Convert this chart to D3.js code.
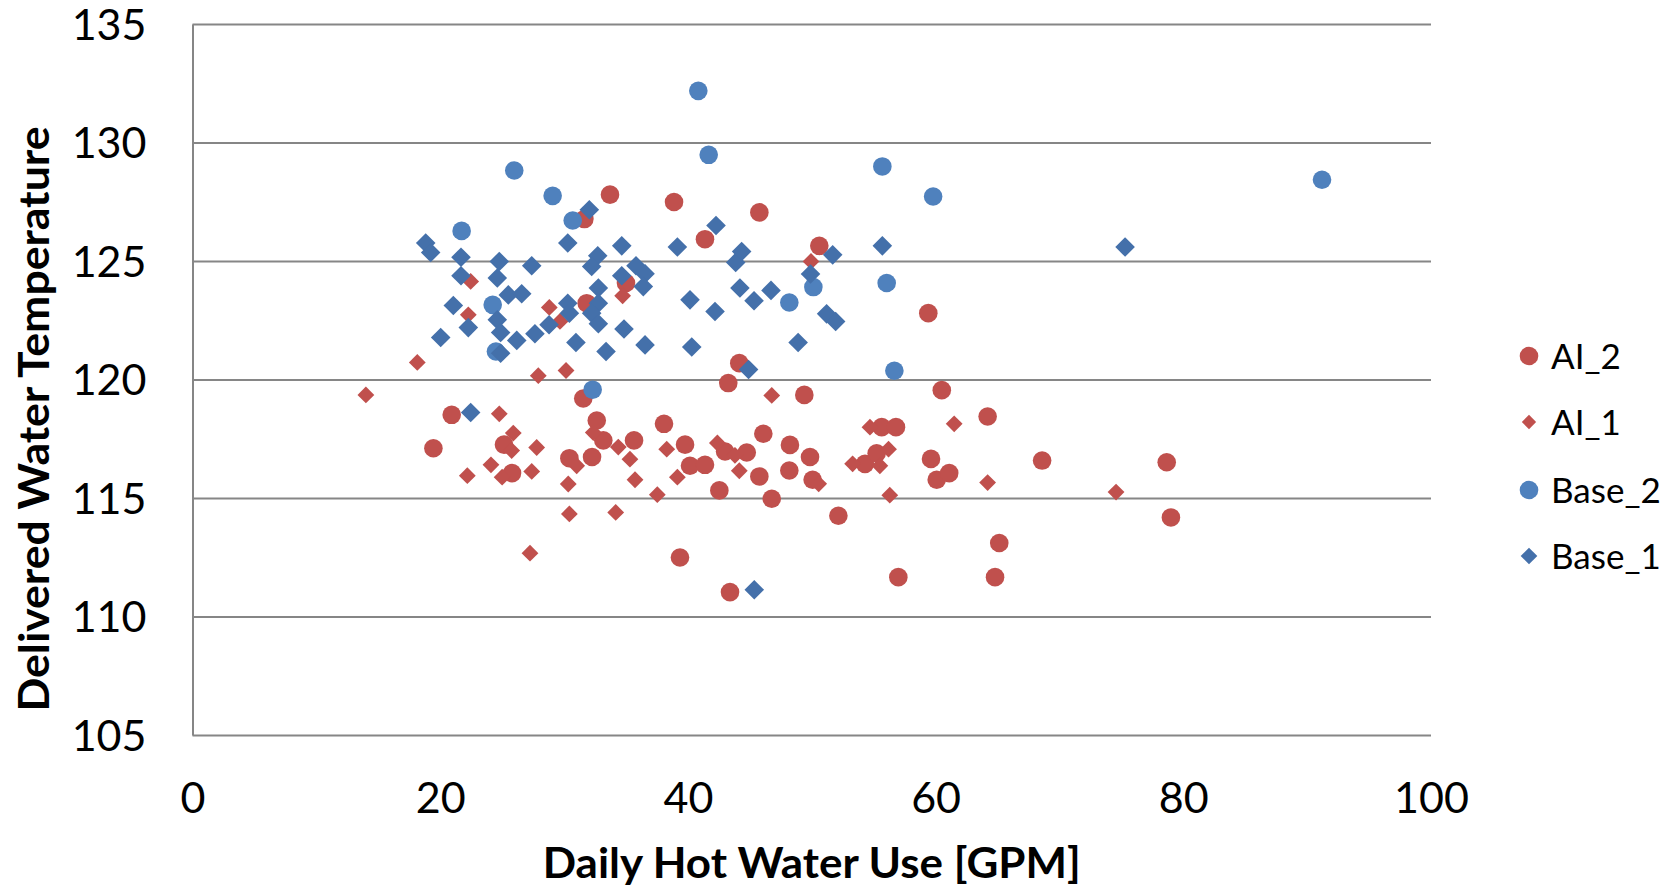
<!DOCTYPE html>
<html>
<head>
<meta charset="utf-8">
<script src="https://cdn.jsdelivr.net/npm/d3@7"></script>
<style>
  body { margin: 0; background: #fff; }
  text { font-family: Lato, "Open Sans", sans-serif; fill: #000; }
</style>
</head>
<body>
<svg id="chart" width="1677" height="888"></svg>
<script>
// Series, listed bottom-to-top in draw order: [daily use GPM, delivered temp]
const seriesNames = ["AI_2", "AI_1", "Base_2", "Base_1"];

const ai2 = [
  [19.45,117.1],[20.93,118.51],[25.15,117.25],[25.8,116.05],[30.43,116.68],[31.64,126.77],
  [31.55,119.2],[31.83,123.22],[32.26,116.73],[32.64,118.27],[33.17,117.43],[33.71,127.8],
  [35.0,124.07],[35.65,117.43],[38.07,118.13],[38.88,127.49],[39.36,112.49],[39.77,117.25],
  [40.17,116.36],[41.38,125.92],[41.38,116.4],[42.54,115.32],[43.0,116.96],[43.26,119.85],
  [43.4,111.03],[44.15,120.69],[44.75,116.92],[45.77,127.05],[45.77,115.91],[46.09,117.71],
  [46.77,114.97],[48.19,116.16],[48.24,117.24],[49.4,119.35],[49.86,116.73],[50.07,115.77],
  [50.61,125.64],[52.15,114.25],[54.3,116.44],[55.24,116.89],[55.65,117.99],[56.8,117.99],
  [56.99,111.66],[59.41,122.8],[59.63,116.65],[60.09,115.77],[60.5,119.55],[61.1,116.05],
  [64.2,118.44],[64.8,111.66],[65.14,113.1],[68.6,116.58],[78.66,116.51],[79.0,114.18]
];

const ai1 = [
  [14.0,119.35],[18.15,120.72],[22.46,124.14],[22.27,122.73],[22.19,115.94],[24.1,116.4],
  [24.77,118.55],[25.0,115.88],[25.9,117.74],[25.77,117.0],[27.39,116.12],[27.25,112.67],
  [27.79,117.13],[27.92,120.16],[28.81,123.04],[29.67,122.45],[30.16,120.38],[30.34,115.59],
  [30.43,114.33],[31.02,116.36],[32.36,117.76],[34.38,117.15],[34.17,114.39],[34.73,123.53],
  [35.32,116.64],[35.73,115.77],[37.53,115.14],[38.29,117.06],[39.15,115.88],[42.38,117.32],
  [43.8,116.8],[44.15,116.15],[46.77,119.33],[49.94,124.98],[50.56,115.6],[53.3,116.44],
  [54.7,117.99],[55.5,116.36],[56.2,117.06],[56.3,115.12],[61.5,118.13],[64.2,115.65],
  [74.57,115.25]
];

const base2 = [
  [21.73,126.27],[24.24,123.15],[24.5,121.18],[25.98,128.82],[29.08,127.75],[30.7,126.71],
  [32.31,119.57],[40.84,132.18],[41.68,129.48],[48.19,123.25],[50.13,123.9],[55.7,128.99],
  [56.05,124.07],[56.67,120.37],[59.8,127.72],[91.2,128.43]
];

const base1 = [
  [18.83,125.76],[19.23,125.36],[21.68,125.16],[21.68,124.38],[21.06,123.12],[22.27,122.19],
  [20.04,121.77],[22.46,118.61],[24.77,124.98],[24.61,124.28],[25.5,123.57],[26.58,123.62],
  [24.61,122.52],[24.88,121.98],[24.88,121.11],[26.18,121.65],[27.39,124.8],[27.65,121.93],
  [28.79,122.31],[30.3,125.76],[30.3,123.22],[30.43,122.8],[30.96,121.56],[32.04,127.16],
  [32.72,125.22],[32.23,124.77],[32.77,123.86],[32.77,123.22],[32.23,122.8],[32.77,122.35],
  [33.39,121.18],[34.66,125.64],[34.66,124.38],[35.81,124.8],[36.54,124.46],[36.4,123.92],
  [34.84,122.13],[36.54,121.46],[39.15,125.59],[40.17,123.36],[40.31,121.37],[42.27,126.5],
  [42.19,122.87],[43.86,124.94],[44.34,125.4],[44.2,123.86],[44.9,120.42],[45.34,123.32],
  [46.71,123.76],[45.36,111.13],[48.9,121.56],[49.9,124.45],[51.2,122.77],[51.93,122.45],
  [51.69,125.26],[55.7,125.64],[75.3,125.59]
];

const xTicks = [0, 20, 40, 60, 80, 100];
const yTicks = [105, 110, 115, 120, 125, 130, 135];
const xTitle = "Daily Hot Water Use [GPM]";
const yTitle = "Delivered Water Temperature";

// Marker style per series
const seriesData = [ai2, ai1, base2, base1];
const styles = [
  { shape: "circle",  r: 9.3, color: "#C0504D" },
  { shape: "diamond", r: 8.4, color: "#C0504D" },
  { shape: "circle",  r: 9.3, color: "#4F81BD" },
  { shape: "diamond", r: 9.8, color: "#4470AA" }
];

const svg = d3.select("#chart");
const x = d3.scaleLinear().domain([0, 100]).range([192.5, 1431]);
const y = d3.scaleLinear().domain([105, 135]).range([735, 24]);

// Horizontal gridlines + left axis line
const yAxis = svg.append("g")
  .attr("transform", `translate(${x(0)},0)`)
  .call(d3.axisLeft(y).tickValues(yTicks).tickFormat(d3.format("d"))
    .tickSize(-(x(100) - x(0))).tickSizeOuter(0).tickPadding(46));
yAxis.select(".domain").attr("stroke", "#868686").attr("stroke-width", 2);
yAxis.selectAll(".tick line").attr("stroke", "#868686").attr("stroke-width", 2);
yAxis.selectAll(".tick text").attr("font-size", 43).attr("dy", "0.36em")
  .style("font-family", "Lato, sans-serif");

// Bottom tick labels
const xAxis = svg.append("g")
  .attr("transform", `translate(0,${y(105)})`)
  .call(d3.axisBottom(x).tickValues(xTicks).tickFormat(d3.format("d")).tickSize(0));
xAxis.select(".domain").remove();
xAxis.selectAll(".tick text").attr("font-size", 43).attr("dy", null).attr("y", 78)
  .style("font-family", "Lato, sans-serif");

// Axis titles
svg.append("text")
  .attr("x", (x(0) + x(100)) / 2).attr("y", 878)
  .attr("text-anchor", "middle").attr("font-size", 42).attr("font-weight", "bold")
  .attr("textLength", 538).attr("lengthAdjust", "spacingAndGlyphs")
  .text(xTitle);

svg.append("text")
  .attr("transform", "translate(49,419) rotate(-90)")
  .attr("text-anchor", "middle").attr("font-size", 42).attr("font-weight", "bold")
  .attr("textLength", 585).attr("lengthAdjust", "spacingAndGlyphs")
  .text(yTitle);

// Marker drawing helper
function drawMarker(sel, st) {
  if (st.shape === "circle") {
    return sel.append("circle").attr("r", st.r).attr("fill", st.color);
  }
  return sel.append("path")
    .attr("d", d3.symbol().type(d3.symbolSquare).size(2 * st.r * st.r)())
    .attr("fill", st.color);
}

// Points
const plot = svg.append("g");
seriesData.forEach((data, i) => {
  const st = styles[i];
  const g = plot.append("g").attr("class", "series-" + seriesNames[i]);
  g.selectAll("g.pt").data(data).join("g")
    .attr("class", "pt")
    .attr("transform", d => `translate(${x(d[0])},${y(d[1])})` + (st.shape === "diamond" ? " rotate(45)" : ""))
    .each(function () { drawMarker(d3.select(this), st); });
});

// Legend
const legend = svg.append("g");
const legendY = [356, 422, 490, 556];
seriesNames.forEach((name, i) => {
  const row = legend.append("g").attr("transform", `translate(1529,${legendY[i]})`);
  const m = row.append("g");
  if (styles[i].shape === "diamond") m.attr("transform", "rotate(45)");
  drawMarker(m, { ...styles[i], r: styles[i].shape === "diamond" ? styles[i].r * 0.85 : 9.3 });
  row.append("text").attr("x", 22).attr("dy", "0.36em").attr("font-size", 35).text(name);
});
</script>
</body>
</html>
